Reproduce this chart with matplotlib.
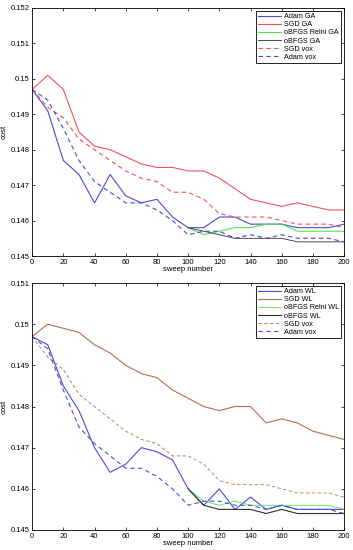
import matplotlib
matplotlib.use("Agg")
import matplotlib.pyplot as plt

plt.rcParams['font.family'] = ['Liberation Sans', 'DejaVu Sans']

sweep = [0, 10, 20, 30, 40, 50, 60, 70, 80, 90, 100,
         110, 120, 130, 140, 150, 160, 170, 180, 190, 200]
sweep_late = sweep[10:]

# top panel (GA)
adam_ga = [0.1497, 0.1491, 0.1477, 0.1473, 0.1465, 0.1473, 0.1467, 0.1465, 0.1466, 0.1461, 0.1458,
           0.1458, 0.1461, 0.1461, 0.1459, 0.1459, 0.1459, 0.1458, 0.1458, 0.1458, 0.1459]
sgd_ga = [0.1497, 0.1501, 0.1497, 0.1485, 0.1481, 0.1480, 0.1478, 0.1476, 0.1475, 0.1475, 0.1474,
          0.1474, 0.1472, 0.1469, 0.1466, 0.1465, 0.1464, 0.1465, 0.1464, 0.1463, 0.1463]
obfgs_relni_ga = [0.1458, 0.1456, 0.1457, 0.1458, 0.1458, 0.1459, 0.1459, 0.1457, 0.1457, 0.1457, 0.1457]
obfgs_ga = [0.1458, 0.1457, 0.1456, 0.1455, 0.1455, 0.1455, 0.1455, 0.1454, 0.1454, 0.1454, 0.1454]
sgd_vox = [0.1497, 0.1492, 0.1489, 0.1483, 0.1480, 0.1477, 0.1474, 0.1472, 0.1471, 0.1468, 0.1468,
           0.1466, 0.1462, 0.1461, 0.1461, 0.1461, 0.1460, 0.1459, 0.1459, 0.1459, 0.1458]
adam_vox = [0.1497, 0.1494, 0.1486, 0.1477, 0.1471, 0.1468, 0.1465, 0.1465, 0.1463, 0.1460, 0.1456,
            0.1457, 0.1457, 0.1455, 0.1456, 0.1455, 0.1456, 0.1455, 0.1455, 0.1455, 0.1454]

# bottom panel (WL)
adam_wl = [0.1497, 0.1495, 0.1485, 0.1479, 0.1470, 0.1464, 0.1466, 0.1470, 0.1469, 0.1467, 0.1460,
           0.1456, 0.1460, 0.1455, 0.1458, 0.1455, 0.1456, 0.1455, 0.1455, 0.1455, 0.1455]
sgd_wl = [0.1497, 0.1500, 0.1499, 0.1498, 0.1495, 0.1493, 0.1490, 0.1488, 0.1487, 0.1484, 0.1482,
          0.1480, 0.1479, 0.1480, 0.1480, 0.1476, 0.1477, 0.1476, 0.1474, 0.1473, 0.1472]
obfgs_relni_wl = [0.1460, 0.1457, 0.1456, 0.1457, 0.1456, 0.1456, 0.1456, 0.1456, 0.1456, 0.1456, 0.1455]
obfgs_wl = [0.1460, 0.1456, 0.1455, 0.1455, 0.1455, 0.1454, 0.1455, 0.1454, 0.1454, 0.1454, 0.1454]
adam_vox2 = [0.1497, 0.1494, 0.1484, 0.1475, 0.1471, 0.1468, 0.1465, 0.1465, 0.1463, 0.1460, 0.1456,
             0.1457, 0.1457, 0.1456, 0.1456, 0.1455, 0.1456, 0.1455, 0.1455, 0.1455, 0.1454]

BLUE = '#4a4ad8'
RED = '#f5505a'
GREEN = '#55e055'
DARK = '#303030'
BROWN = '#b07050'

fig = plt.figure(figsize=(3.53, 5.5), dpi=100)
ax1 = fig.add_axes([0.091, 0.5345, 0.884, 0.451])
ax2 = fig.add_axes([0.091, 0.0364, 0.884, 0.449])


def style(ax, top):
    ax.set_xlim(0, 200)
    ax.set_ylim(0.145, top)
    ax.set_xticks(range(0, 201, 20))
    ax.set_yticks([0.145, 0.146, 0.147, 0.148, 0.149, 0.15, 0.151, 0.152][:int(round((top - 0.145) / 0.001)) + 1])
    ax.yaxis.set_major_formatter(matplotlib.ticker.FuncFormatter(lambda v, p: ('%.4g' % v)))
    ax.tick_params(direction='in', top=True, right=True, labelsize=5.5, length=2.5, width=0.5, pad=2)
    for s in ax.spines.values():
        s.set_linewidth(0.6)
    ax.set_xlabel('sweep number', fontsize=5.5, labelpad=0.5)
    ax.set_ylabel('cost', fontsize=5.5, labelpad=2)
    leg = ax.legend(loc='upper right', fontsize=5.2, handlelength=3.2, handletextpad=0.4,
                    borderpad=0.3, labelspacing=0.15, fancybox=False, framealpha=1,
                    markerfirst=True, borderaxespad=0.4)
    leg.get_frame().set_edgecolor('black')
    leg.get_frame().set_linewidth(0.6)
    for t in leg.get_texts():
        t.set_ha('left')


ax1.plot(sweep, adam_ga, color=BLUE, lw=0.8, label='Adam GA')
ax1.plot(sweep, sgd_ga, color=RED, lw=0.8, label='SGD GA')
ax1.plot(sweep_late, obfgs_relni_ga, color=GREEN, lw=0.8, label='oBFGS Relni GA')
ax1.plot(sweep_late, obfgs_ga, color=DARK, lw=0.6, label='oBFGS GA')
ax1.plot(sweep, sgd_vox, color=RED, lw=0.8, ls=(0, (4, 3)), label='SGD vox')
ax1.plot(sweep, adam_vox, color=BLUE, lw=0.8, ls=(0, (4, 3)), label='Adam vox')
style(ax1, 0.152)

ax2.plot(sweep, adam_wl, color=BLUE, lw=0.8, label='Adam WL')
ax2.plot(sweep, sgd_wl, color=BROWN, lw=0.8, label='SGD WL')
ax2.plot(sweep_late, obfgs_relni_wl, color=GREEN, lw=0.6, label='oBFGS Relni WL')
ax2.plot(sweep_late, obfgs_wl, color=DARK, lw=0.8, label='oBFGS WL')
ax2.plot(sweep, sgd_vox, color=BROWN, lw=0.6, ls=(0, (4, 3)), label='SGD vox')
ax2.plot(sweep, adam_vox2, color=BLUE, lw=0.8, ls=(0, (4, 3)), label='Adam vox')
style(ax2, 0.151)

fig.savefig('out.png', dpi=100)
